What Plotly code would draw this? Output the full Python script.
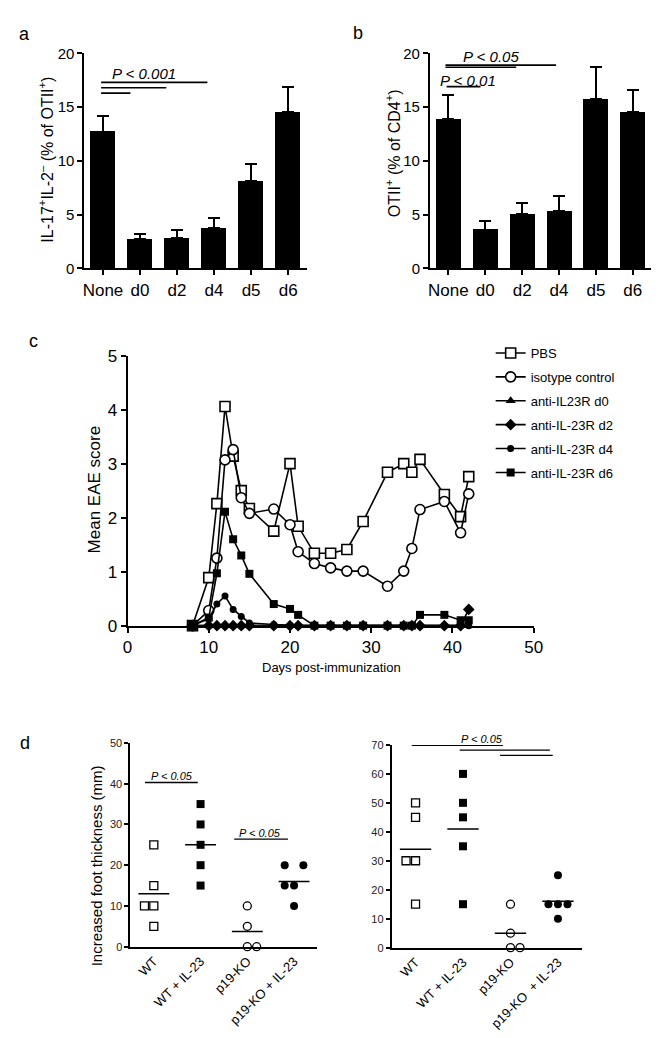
import plotly.graph_objects as go

W, H = 661, 1038
FONT = "Arial, Liberation Sans, sans-serif"

# ---------------- data ----------------
# panel a
a_groups = ["None", "d0", "d2", "d4", "d5", "d6"]
a_values = [12.7, 2.7, 2.8, 3.75, 8.1, 14.55]
a_sem = [1.45, 0.45, 0.8, 0.92, 1.62, 2.35]
# panel b
b_groups = ["None", "d0", "d2", "d4", "d5", "d6"]
b_values = [13.85, 3.6, 5.05, 5.3, 15.75, 14.5]
b_sem = [2.25, 0.8, 1.0, 1.45, 3.0, 2.1]

# panel c
days = [8, 10, 11, 12, 13, 14, 15, 18, 20, 21, 23, 25, 27, 29, 32, 34, 35, 36, 39, 41, 42]
pbs = [0, 0.89, 2.26, 4.06, 3.14, 2.5, 2.17, 1.75, 3.0, 1.84, 1.34, 1.34, 1.41, 1.93, 2.84, 3.0, 2.84, 3.08, 2.43, 2.02, 2.76]
isotype = [0, 0.28, 1.25, 3.07, 3.26, 2.37, 2.08, 2.16, 1.87, 1.37, 1.15, 1.07, 1.01, 1.01, 0.73, 1.01, 1.43, 2.15, 2.3, 1.72, 2.44]
anti_d0 = [0, 0, 0, 0, 0, 0, 0, 0, 0, 0, 0, 0, 0, 0, 0, 0, 0, 0, 0, 0, 0]
anti_d2 = [0, 0, 0, 0, 0, 0, 0, 0, 0, 0, 0, 0, 0, 0, 0, 0, 0, 0, 0, 0, 0.3]
anti_d4 = [0, 0.13, 0.4, 0.55, 0.3, 0.17, 0.05, 0.02, 0, 0, 0, 0, 0, 0, 0, 0, 0, 0, 0, 0, 0]
anti_d6 = [0, 0.15, 0.97, 2.11, 1.6, 1.3, 0.96, 0.4, 0.31, 0.2, 0, 0, 0, 0, 0, 0, 0, 0.2, 0.2, 0.1, 0.1]

# panel d
d_groups = ["WT", "WT + IL-23", "p19-KO", "p19-KO + IL-23"]
dl_wt = [25, 15, 10, 10, 5]
dl_wt_il23 = [35, 30, 25, 20, 15]
dl_p19 = [10, 5, 0, 0]
dl_p19_il23 = [20, 20, 15, 15, 10]
dr_wt = [50, 45, 30, 30, 15]
dr_wt_il23 = [60, 50, 45, 35, 15]
dr_p19 = [15, 5, 0, 0]
dr_p19_il23 = [25, 15, 15, 15, 10]
# horizontal dodge of coincident points (category units)
dl_jit = [[0, 0, -0.2, 0, 0], [0, 0, 0, 0, 0], [0, 0, 0, 0.2], [-0.2, 0.2, -0.2, 0, 0]]
dr_jit = [[0, 0, -0.2, 0, 0], [0, 0, 0, 0, 0], [0, 0, 0, 0.2], [0, -0.2, 0, 0.2, 0]]


def fx(p):
    return p / W


def fy(p):
    return 1 - p / H


fig = go.Figure()

axis_common = dict(showline=True, linecolor="black", linewidth=2, ticks="outside",
                   ticklen=5, tickwidth=2, tickcolor="black", showgrid=False,
                   zeroline=False, fixedrange=True)

# ---------- panel a ----------
fig.add_trace(go.Bar(
    x=list(range(len(a_groups))), y=a_values, width=0.68, marker_color="black",
    marker_line_width=0,
    error_y=dict(type="data", symmetric=False, array=a_sem, arrayminus=[0] * 6,
                 color="black", thickness=2, width=6),
    xaxis="x", yaxis="y", showlegend=False))

# ---------- panel b ----------
fig.add_trace(go.Bar(
    x=list(range(len(b_groups))), y=b_values, width=0.68, marker_color="black",
    marker_line_width=0,
    error_y=dict(type="data", symmetric=False, array=b_sem, arrayminus=[0] * 6,
                 color="black", thickness=2, width=6),
    xaxis="x2", yaxis="y2", showlegend=False))

# ---------- panel c ----------
series = [
    ("PBS", pbs, dict(symbol="square", size=10, color="white", line=dict(color="black", width=1.6))),
    ("isotype control", isotype, dict(symbol="circle", size=10, color="white", line=dict(color="black", width=1.6))),
    ("anti-IL23R d0", anti_d0, dict(symbol="triangle-up", size=9, color="black")),
    ("anti-IL-23R d2", anti_d2, dict(symbol="diamond", size=9, color="black")),
    ("anti-IL-23R d4", anti_d4, dict(symbol="circle", size=7, color="black")),
    ("anti-IL-23R d6", anti_d6, dict(symbol="square", size=8, color="black")),
]
for i, (name, vals, mk) in enumerate(series):
    fig.add_trace(go.Scatter(
        x=days, y=vals, mode="lines+markers", name=name, marker=mk,
        line=dict(color="black", width=1.6), xaxis="x3", yaxis="y3",
        legendgroup=f"g{i}", cliponaxis=False))

# ---------- panel d ----------
def add_dot_panel(groups_vals, jits, xa, ya):
    styles = [
        dict(symbol="square", size=8, color="white", line=dict(color="black", width=1.3)),
        dict(symbol="square", size=8, color="black"),
        dict(symbol="circle", size=8, color="white", line=dict(color="black", width=1.3)),
        dict(symbol="circle", size=8, color="black"),
    ]
    for gi, (vals, jit) in enumerate(zip(groups_vals, jits)):
        fig.add_trace(go.Scatter(
            x=[gi + j for j in jit], y=vals, mode="markers", marker=styles[gi],
            xaxis=xa, yaxis=ya, showlegend=False, cliponaxis=False))
        m = sum(vals) / len(vals)
        half = 0.33
        fig.add_trace(go.Scatter(
            x=[gi - half, gi + half], y=[m, m], mode="lines",
            line=dict(color="black", width=1.5), xaxis=xa, yaxis=ya,
            showlegend=False, hoverinfo="skip"))


add_dot_panel([dl_wt, dl_wt_il23, dl_p19, dl_p19_il23], dl_jit, "x4", "y4")
add_dot_panel([dr_wt, dr_wt_il23, dr_p19, dr_p19_il23], dr_jit, "x5", "y5")

# ---------- layout ----------
ytickfont_ab = dict(family=FONT, size=15, color="black")
xtickfont_ab = dict(family=FONT, size=17, color="black")
fig.update_layout(
    width=W, height=H, margin=dict(l=0, r=0, t=0, b=0),
    paper_bgcolor="white", plot_bgcolor="white",
    font=dict(family=FONT, color="black"),
    bargap=0,
    # panel a
    xaxis=dict(**axis_common, domain=[fx(73), fx(300)], range=[-0.5, 5.5],
               tickvals=list(range(6)), ticktext=a_groups, tickfont=xtickfont_ab),
    yaxis=dict(**axis_common, domain=[fy(256), fy(37)], range=[0, 20],
               tickvals=[0, 5, 10, 15, 20], tickfont=ytickfont_ab, anchor="x"),
    # panel b
    xaxis2=dict(**axis_common, domain=[fx(426), fx(652)], range=[-0.5, 5.5],
                tickvals=list(range(6)), ticktext=b_groups, tickfont=xtickfont_ab, anchor="y2"),
    yaxis2=dict(**axis_common, domain=[fy(256), fy(37)], range=[0, 20],
                tickvals=[0, 5, 10, 15, 20], tickfont=ytickfont_ab, anchor="x2"),
    # panel c
    xaxis3=dict(**axis_common, domain=[fx(117), fx(532)], range=[0, 50],
                tickvals=[0, 10, 20, 30, 40, 50], tickfont=dict(family=FONT, size=17), anchor="y3"),
    yaxis3=dict(**axis_common, domain=[fy(620), fy(345)], range=[0, 5],
                tickvals=[0, 1, 2, 3, 4, 5], tickfont=dict(family=FONT, size=17), anchor="x3"),
    # panel d left
    xaxis4=dict(**{**axis_common, "ticks": ""}, domain=[fx(120), fx(311)], range=[-0.5, 3.5],
                tickvals=list(range(4)), ticktext=d_groups, tickangle=-45,
                tickfont=dict(family=FONT, size=13), anchor="y4"),
    yaxis4=dict(**{**axis_common, "ticklen": 4, "tickwidth": 1.5}, domain=[fy(947), fy(739.5)], range=[0, 50],
                tickvals=[0, 10, 20, 30, 40, 50], tickfont=dict(family=FONT, size=11, color="#222"),
                anchor="x4"),
    # panel d right
    xaxis5=dict(**{**axis_common, "ticks": ""}, domain=[fx(387), fx(581)], range=[-0.5, 3.5],
                tickvals=list(range(4)), ticktext=["WT", "WT + IL-23", "p19-KO", "p19-KO  + IL-23"],
                tickangle=-45, tickfont=dict(family=FONT, size=13), anchor="y5"),
    yaxis5=dict(**{**axis_common, "ticklen": 4, "tickwidth": 1.5}, domain=[fy(948), fy(741.5)], range=[0, 70],
                tickvals=[0, 10, 20, 30, 40, 50, 60, 70], tickfont=dict(family=FONT, size=11, color="#222"),
                anchor="x5"),
    legend=dict(x=fx(488), y=fy(327), xanchor="left", yanchor="top",
                font=dict(family=FONT, size=13, color="black"), bgcolor="rgba(0,0,0,0)",
                traceorder="grouped", tracegroupgap=4, itemwidth=30),
)

shapes = []
annots = []


def hline(xa, ya, x0, x1, y, w=1.6):
    shapes.append(dict(type="line", xref=xa, yref=ya, x0=x0, x1=x1, y0=y, y1=y,
                       line=dict(color="black", width=w)))


def ptext(xa, ya, x, y, txt, size, yshift=0):
    annots.append(dict(xref=xa, yref=ya, x=x, y=y, text=f"<i>{txt}</i>", showarrow=False,
                       xanchor="center", yanchor="bottom", yshift=yshift,
                       font=dict(family=FONT, size=size, color="black")))


# panel a significance
hline("x", "y", -0.05, 2.82, 17.3)
hline("x", "y", -0.05, 1.71, 16.8)
hline("x", "y", -0.05, 0.74, 16.3)
ptext("x", "y", 1.1, 17.3, "P &lt; 0.001", 15, yshift=-2)
# panel b significance
hline("x2", "y2", -0.08, 2.92, 18.9)
hline("x2", "y2", -0.08, 1.84, 18.7)
hline("x2", "y2", -0.05, 0.87, 16.9)
ptext("x2", "y2", 1.16, 18.9, "P &lt; 0.05", 15, yshift=-2)
ptext("x2", "y2", 0.53, 16.9, "P &lt; 0.01", 15, yshift=-4)
# panel d left
hline("x4", "y4", -0.19, 0.94, 40.3, 1.4)
hline("x4", "y4", 1.72, 2.87, 26.4, 1.4)
ptext("x4", "y4", 0.38, 40.3, "P &lt; 0.05", 11, yshift=-2)
ptext("x4", "y4", 2.28, 26.4, "P &lt; 0.05", 11, yshift=-2)
# panel d right
hline("x5", "y5", -0.08, 1.84, 69.9, 1.4)
hline("x5", "y5", 0.93, 2.83, 68.2, 1.4)
hline("x5", "y5", 1.78, 2.89, 66.4, 1.4)
ptext("x5", "y5", 1.4, 69.9, "P &lt; 0.05", 11, yshift=-2)


def ptxt(x, y, txt, size, angle=0):
    annots.append(dict(xref="paper", yref="paper", x=fx(x), y=fy(y), text=txt,
                       showarrow=False, xanchor="center", yanchor="middle", textangle=angle,
                       font=dict(family=FONT, size=size, color="black")))


# panel letters
ptxt(12, 17, "a", 18)
ptxt(352, 16, "b", 18)
ptxt(21, 330, "c", 18)
ptxt(12, 740, "d", 18)
# axis titles
ptxt(34, 145, "IL-17<sup>+</sup>IL-2<sup>–</sup> (% of OTII<sup>+</sup>)", 16, angle=-90)
ptxt(389, 139, "OTII<sup>+</sup> (% of CD4<sup>+</sup>)", 16, angle=-90)
ptxt(83, 481, "Mean EAE score", 17, angle=-90)
ptxt(325, 663, "Days post-immunization", 13)
ptxt(85, 865, "Increased foot thickness (mm)", 15, angle=-90)

fig.update_layout(shapes=shapes, annotations=annots)
fig.write_html("out.html")
